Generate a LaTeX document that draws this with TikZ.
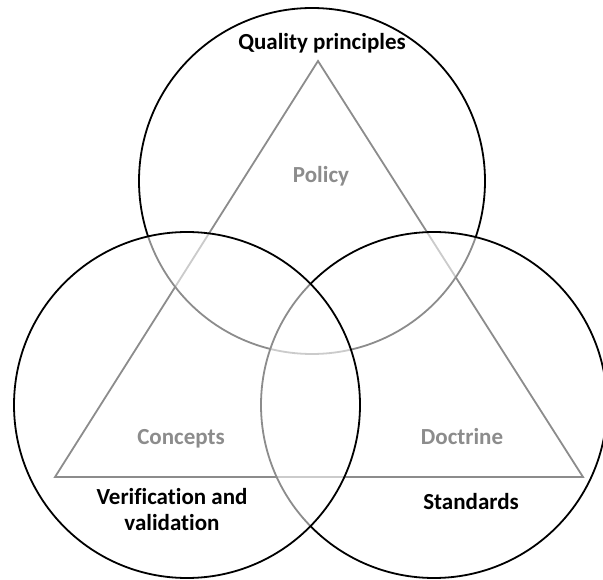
\documentclass[tikz,border=0pt]{standalone}
\usepackage{fontspec}
\setmainfont{Carlito}[Ligatures=CommonOff]
\begin{document}
\begin{tikzpicture}[x=1pt, y=-1pt, line width=1.8pt,
    ring/.style={circle, draw=black, fill=white, fill opacity=.55, minimum size=346pt, inner sep=0pt},
    pillar/.style={font=\bfseries\fontsize{23}{26}\selectfont, anchor=base},
    theme/.style={font=\bfseries\fontsize{23}{26}\selectfont, anchor=base, align=center}]
\useasboundingbox (0,0) rectangle (603,580);
% triangle, seen through the rings
\coordinate (apex) at (318,61);
\coordinate (baseL) at (55,477);
\coordinate (baseR) at (583,477);
\draw[line join=miter] (apex)--(baseL)--(baseR)--cycle;
\node[pillar] (policy) at (321,183) {Policy};
\foreach \n/\x/\t in {concepts/181/Concepts, doctrine/462/Doctrine}
{
    \node[pillar] (\n) at (\x,444) {\t};
}
% rings
\node[ring] (upper) at (312,181) {};
\node[ring] (rightring) at (434,405) {};
\node[ring] (leftring) at (187,405) {};
% themes
\node[theme] (quality) at (322,50) {Quality principles};
\node[theme] (vv) at (172,530) {Verification and\\validation};
\node[theme] (standards) at (471,509) {Standards};
\end{tikzpicture}
\end{document}
